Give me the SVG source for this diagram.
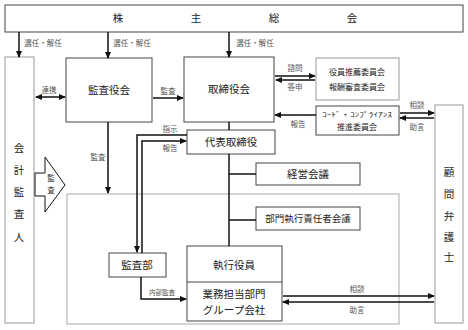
<svg xmlns="http://www.w3.org/2000/svg" width="468" height="330" viewBox="0 0 468 330">
<style>
text{font-family:"Liberation Serif","Noto Sans CJK JP",serif;fill:#222;text-anchor:middle;dominant-baseline:central}
.box{fill:#fff;stroke:#444;stroke-width:1}
.gbox{fill:#fff;stroke:#999;stroke-width:1}
.area{fill:none;stroke:#aaa;stroke-width:1}
.t{font-size:10.5px}
.m{font-size:8px}
.lb{font-size:7.5px;fill:#555}
.ln{fill:none;stroke:#111;stroke-width:1.5}
.ar{fill:none;stroke:#111;stroke-width:1.5;marker-end:url(#ah)}
</style>
<defs>
<marker id="ah" markerUnits="userSpaceOnUse" markerWidth="7" markerHeight="6" refX="6" refY="3" orient="auto">
<path d="M0,0 L7,3 L0,6 Z" fill="#111"/>
</marker>
<marker id="as" markerUnits="userSpaceOnUse" markerWidth="7" markerHeight="6" refX="1" refY="3" orient="auto">
<path d="M7,0 L0,3 L7,6 Z" fill="#111"/>
</marker>
</defs>
<rect class="area" x="67" y="194" width="332" height="130"/>
<g id="shareholders"><rect class="box" x="5" y="5" width="458" height="27"/>
<text class="t" x="118" y="18">株</text><text class="t" x="196" y="18">主</text><text class="t" x="274" y="18">総</text><text class="t" x="352" y="18">会</text></g>
<g id="auditor"><rect class="gbox" x="5" y="57" width="29" height="266"/>
<text class="t" x="19" y="148">会</text><text class="t" x="19" y="170">計</text><text class="t" x="19" y="192">監</text><text class="t" x="19" y="214">査</text><text class="t" x="19" y="237">人</text></g>
<g id="kansayakukai"><rect class="box" x="66" y="58" width="86" height="64"/><text class="t" x="109" y="90">監査役会</text></g>
<g id="torishimariyakukai"><rect class="box" x="184" y="57" width="90" height="65"/><text class="t" x="229" y="89">取締役会</text></g>
<g id="committee"><rect class="gbox" x="316" y="58" width="83" height="42"/><text class="m" x="357" y="72">役員推薦委員会</text><text class="m" x="357" y="87">報酬審査委員会</text></g>
<g id="compliance"><rect class="box" x="316" y="106" width="83" height="29"/><text x="357" y="114" style="font-size:6.5px" textLength="70" lengthAdjust="spacingAndGlyphs">ｺｰﾄﾞ・ｺﾝﾌﾟﾗｲｱﾝｽ</text><text class="m" x="357" y="127">推進委員会</text></g>
<g id="lawyer"><rect class="gbox" x="435" y="105" width="28" height="218"/>
<text class="t" x="449" y="172">顧</text><text class="t" x="449" y="194">問</text><text class="t" x="449" y="216">弁</text><text class="t" x="449" y="237">護</text><text class="t" x="449" y="257">士</text></g>
<g id="daihyo"><rect class="box" x="187" y="130" width="88" height="24"/><text class="t" x="231" y="142">代表取締役</text></g>
<g id="keiei"><rect class="box" x="256" y="163" width="104" height="22"/><text class="t" x="308" y="174">経営会議</text></g>
<g id="bumon"><rect class="box" x="256" y="207" width="104" height="23"/><text x="308" y="219" style="font-size:9.5px">部門執行責任者会議</text></g>
<g id="kansabu"><rect class="box" x="109" y="253" width="57" height="24"/><text class="t" x="137" y="265">監査部</text></g>
<g id="shikko"><rect class="box" x="187" y="246" width="95" height="75"/><line x1="187" y1="282" x2="282" y2="282" stroke="#444"/>
<text class="t" x="234" y="265">執行役員</text><text class="t" x="234" y="294">業務担当部門</text><text class="t" x="234" y="310">グループ会社</text></g>
<g id="blockarrow"><polygon points="35,173 45,173 45,157 65,185 45,212 45,196 35,196" fill="#fff" stroke="#111" stroke-width="1"/>
<text class="lb" x="51" y="178" style="fill:#333">監</text><text class="lb" x="51" y="190" style="fill:#333">査</text></g>
<g id="connectors">
<path class="ar" d="M19,32 V57"/><path class="ar" d="M108,32 V58"/><path class="ar" d="M229,32 V57"/>
<path class="ar" d="M36,97 H65" style="marker-start:url(#as)"/>
<path class="ar" d="M153,98 H183"/>
<path class="ar" d="M275,76 H315"/><path class="ar" d="M315,80 H276"/>
<path class="ar" d="M316,115 H275"/>
<path class="ar" d="M400,113 H434"/><path class="ar" d="M434,118 H400"/>
<path class="ln" d="M229,122 V130"/><path class="ln" d="M229,154 V246"/>
<path class="ln" d="M229,174 H256"/><path class="ln" d="M229,220 H256"/>
<path class="ar" d="M108,122 V193"/>
<path class="ar" d="M187,135 H137 V252"/>
<path class="ar" d="M142,253 V141 H186"/>
<path class="ar" d="M141,277 V299 H186"/>
<path class="ar" d="M283,296 H434"/><path class="ar" d="M434,302 H283"/>
</g>
<g id="labels">
<text class="lb" x="43" y="43">選任・解任</text><text class="lb" x="132" y="43">選任・解任</text><text class="lb" x="255" y="43">選任・解任</text>
<text class="lb" x="49" y="90">連携</text><text class="lb" x="168" y="91">監査</text>
<text class="lb" x="295" y="68">諮問</text><text class="lb" x="295" y="87">答申</text>
<text class="lb" x="298" y="124">報告</text>
<text class="lb" x="417" y="105">相談</text><text class="lb" x="417" y="127">助言</text>
<text class="lb" x="98" y="157">監査</text>
<text class="lb" x="170" y="129">指示</text><text class="lb" x="170" y="148">報告</text>
<text class="lb" x="162" y="292" style="font-size:6.5px">内部監査</text>
<text class="lb" x="357" y="289">相談</text><text class="lb" x="357" y="310">助言</text>
</g>
</svg>
